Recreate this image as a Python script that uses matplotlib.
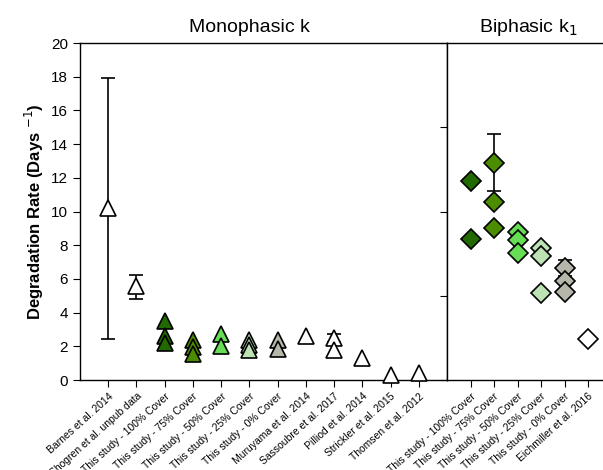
import matplotlib.pyplot as plt

plt.rcParams['font.family'] = ['Liberation Sans', 'DejaVu Sans']

# monophasic k (left panel)
mono_labels = ['Barnes et al. 2014', 'Shogren et al. unpub data', 'This study - 100% Cover',
               'This study - 75% Cover', 'This study - 50% Cover', 'This study - 25% Cover',
               'This study - 0% Cover', 'Muruyama et al. 2014', 'Sassoubre et al. 2017',
               'Pilliod et al. 2014', 'Strickler et al. 2015', 'Thomsen et al. 2012']
mono_values = [[10.2], [5.6], [3.5, 2.6, 2.2], [2.35, 1.95, 1.55], [2.75, 2.0],
               [2.35, 2.05, 1.8], [2.35, 1.85], [2.6], [2.5, 1.8], [1.3], [0.3], [0.42]]
mono_err = {0: (7.75, 7.7), 1: (0.8, 0.65), 8: (0.25, 0.25)}

# biphasic k1 (right panel)
bi_labels = ['This study - 100% Cover', 'This study - 75% Cover', 'This study - 50% Cover',
             'This study - 25% Cover', 'This study - 0% Cover', 'Eichmiller et al. 2016']
bi_values = [[11.8, 8.35], [12.9, 10.55, 9.0], [8.8, 8.3, 7.55],
             [7.85, 7.35, 5.15], [6.65, 5.85, 5.2], [2.45]]
bi_err = {1: (1.7, 1.7), 4: (0.45, 0.45)}

cover_colors = ['#216a00', '#4b8c00', '#66dd55', '#bde3b5', '#b6b6aa']
mono_colors = ['white', 'white'] + cover_colors + ['white'] * 5
bi_colors = cover_colors + ['white']

fig = plt.figure(figsize=(6.03, 4.70), dpi=100)
ax1 = fig.add_axes([80 / 603, 90 / 470, 367 / 603, 337 / 470])
ax2 = fig.add_axes([447 / 603, 90 / 470, 160 / 603, 337 / 470])

for i, vals in enumerate(mono_values):
    x = i + 1
    if i in mono_err:
        lo, hi = mono_err[i]
        ax1.errorbar([x], [vals[0]], yerr=[[lo], [hi]], fmt='none', ecolor='black',
                     elinewidth=1.2, capsize=5, capthick=1.2, zorder=2)
    ax1.plot([x] * len(vals), vals, '^', ms=11, mfc=mono_colors[i], mec='black',
             mew=1.2, linestyle='none', zorder=3, clip_on=False)

for i, vals in enumerate(bi_values):
    x = i + 1
    if i in bi_err:
        lo, hi = bi_err[i]
        ax2.errorbar([x], [vals[0]], yerr=[[lo], [hi]], fmt='none', ecolor='black',
                     elinewidth=1.2, capsize=5, capthick=1.2, zorder=2)
    ax2.plot([x] * len(vals), vals, 'D', ms=10, mfc=bi_colors[i], mec='black',
             mew=1.2, linestyle='none', zorder=3)

ax1.set_xlim(0, 13)
ax1.set_ylim(0, 20)
ax1.set_yticks(range(0, 21, 2))
ax1.set_xticks(range(1, 13))
ax1.set_xticklabels(mono_labels, rotation=42, ha='right', rotation_mode='anchor', fontsize=7.5)
ax1.tick_params(axis='y', direction='out', labelsize=11, length=5)
ax1.tick_params(axis='x', direction='out', length=5, pad=3)
ax1.set_ylabel('Degradation Rate (Days $^{-1}$)', fontsize=12, fontweight='bold')

ax2.set_xlim(0, 6.8)
ax2.set_ylim(0, 20)
ax2.set_xticks(range(1, 7))
ax2.set_xticklabels(bi_labels, rotation=42, ha='right', rotation_mode='anchor', fontsize=7.5)
ax2.set_yticks([0, 5, 10, 15, 20])
ax2.tick_params(axis='y', direction='out', length=5, labelleft=False)
ax2.tick_params(axis='x', direction='out', length=5, pad=3)
ax2.spines['right'].set_visible(False)

for ax in (ax1, ax2):
    for s in ax.spines.values():
        s.set_linewidth(1.0)

fig.text(249 / 603, 1 - 27 / 470, 'Monophasic k', ha='center', va='center', fontsize=14)
fig.text(528 / 603, 1 - 27 / 470, 'Biphasic k$_1$', ha='center', va='center', fontsize=14)

plt.savefig('out.png', dpi=100)
